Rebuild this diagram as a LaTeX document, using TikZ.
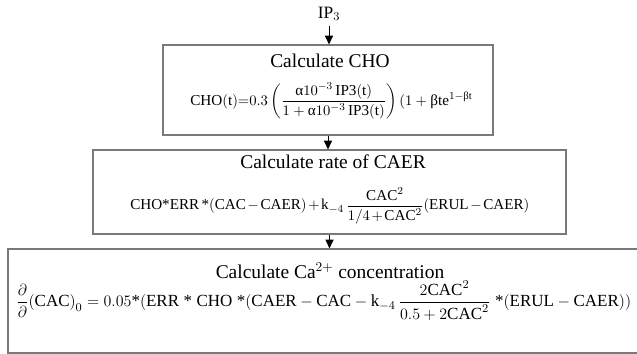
\documentclass[tikz,border=0pt]{standalone}
\usepackage{amsmath}
\usepackage{fontspec}
\setmainfont{Liberation Serif}
\DeclareSymbolFont{operators}{TU}{\rmdefault}{m}{n}
\usetikzlibrary{arrows.meta,positioning}
\newcommand{\upal}{\text{α}}
\newcommand{\upbe}{\text{β}}
\newcommand{\mult}{\text{*}}

\begin{document}
\begin{tikzpicture}[x=0.75pt, y=-0.75pt,
  stage/.style={rectangle, draw=gray!95!black, line width=0.9pt, inner sep=0pt},
  stagetitle/.style={font=\rmfamily\fontsize{14.6}{17}\selectfont, inner sep=1pt},
  eqn/.style={font=\rmfamily\fontsize{11.4}{14}\selectfont, inner sep=0pt},
  arr/.style={-{Triangle[length=6.5pt,width=6pt]}, line width=0.7pt, black}
]
  \useasboundingbox (0,0) rectangle (637,354);
  % input
  \node[font=\rmfamily\fontsize{13}{15}\selectfont] (ip) at (329, 14) {IP$_3$};
  % stage boxes
  \node[stage, minimum width=247.5pt, minimum height=67.5pt] (cho) at (328, 90) {};
  \node[stage, minimum width=354.75pt, minimum height=63pt] (caer) at (329.5, 192) {};
  \node[stage, minimum width=480pt, minimum height=78pt] (cac) at (328, 301) {};
  % titles
  \node[stagetitle] (t1) at (330, 61) {Calculate CHO};
  \node[stagetitle] (t2) at (333, 162) {Calculate rate of CAER};
  \node[stagetitle] (t3) at (330, 271) {Calculate Ca$^{2+}$ concentration};
  % formulas
  \node[eqn, anchor=west] (f1) at (190, 101)
    {$\mathrm{CHO(t)}{=}0.3\left(\dfrac{\upal 10^{-3}\,\mathrm{IP3(t)}}{1+\upal 10^{-3}\,\mathrm{IP3(t)}}\right)(1+\upbe\mathrm{te}^{1-\upbe\mathrm{t}}$};
  \node[eqn, anchor=west, font=\rmfamily\fontsize{11.35}{14}\selectfont] (f2) at (130, 206)
    {$\medmuskip=2mu \mathrm{CHO}\mult\mathrm{ERR}\,\mult\mathrm{(CAC}-\mathrm{CAER)}+\mathrm{k}_{-4}\,\dfrac{\mathrm{CAC}^2}{1/4+\mathrm{CAC}^2}\mathrm{(ERUL}-\mathrm{CAER)}$};
  \node[eqn, anchor=west, font=\rmfamily\fontsize{12.75}{16}\selectfont] (f3) at (16, 301)
    {$\dfrac{\partial}{\partial}\mathrm{(CAC)}_0=0.05\mult\mathrm{(ERR}\;\mult\;\mathrm{CHO}\;\mult\mathrm{(CAER}-\mathrm{CAC}-\mathrm{k}_{-4}\,\dfrac{2\mathrm{CAC}^2}{0.5+2\mathrm{CAC}^2}\;\mult\mathrm{(ERUL}-\mathrm{CAER))}$};
  % flow
  \draw[arr] (ip.south) -- (ip.south |- cho.north);
  \draw[arr] (cho.south) -- (cho.south |- caer.north);
  \draw[arr] (caer.south) -- (caer.south |- cac.north);
\end{tikzpicture}
\end{document}
